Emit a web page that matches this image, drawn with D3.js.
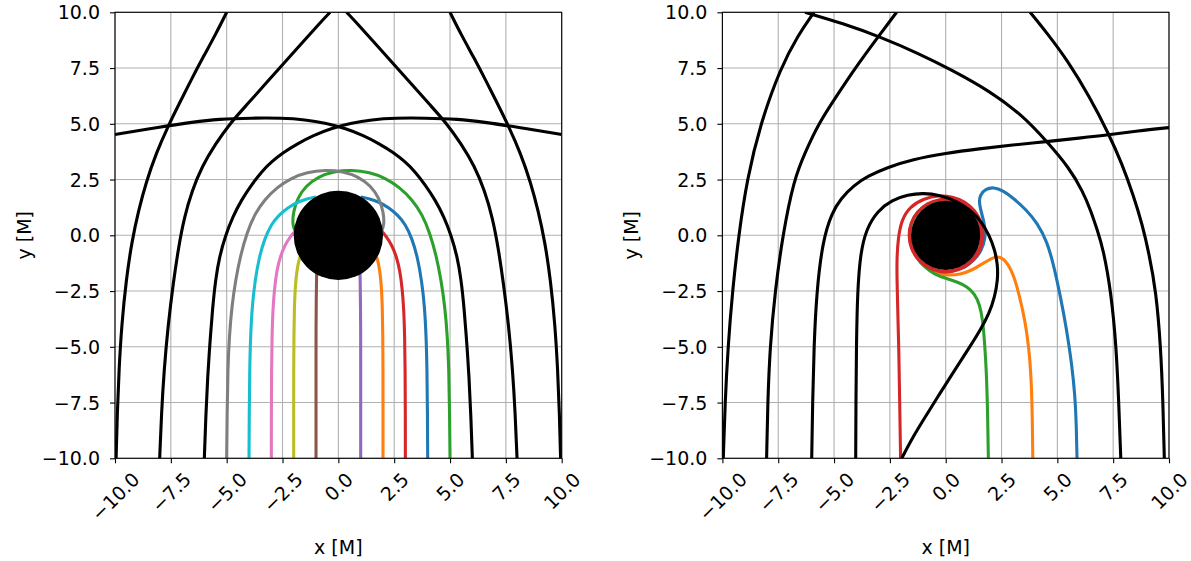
<!DOCTYPE html>
<html>
<head>
<meta charset="utf-8">
<script src="https://cdn.jsdelivr.net/npm/d3@7"></script>
<style>
  html, body { margin: 0; padding: 0; background: #ffffff; }
  svg { display: block; font-family: "DejaVu Sans", sans-serif; }
</style>
</head>
<body>
<svg id="chart" width="1191" height="561"></svg>
<script>
// Axis ticks shared by both panels (units of M)
const tickValues = [-10, -7.5, -5, -2.5, 0, 2.5, 5, 7.5, 10];
const xLabel = "x [M]";
const yLabel = "y [M]";

// Horizon radii drawn as black disks
const horizonLeft = 2.0;
const horizonRight = 1.55;

// ---- Left panel: non-rotating hole, rays launched upward from y = -10 ----
const sB1  = [[1,-10],[1,-8],[1,-6],[1,-4],[0.99,-3],[0.98,-2.2],[0.97,-1.6],[0.96,-1.3]];
const sB2  = [[2,-10],[2,-8],[2,-6],[1.99,-4.5],[1.97,-3.2],[1.93,-2.3],[1.86,-1.6],[1.76,-1.05],[1.6,-0.7]];
const sB3  = [[3,-10],[3,-8],[2.99,-6],[2.97,-4.5],[2.93,-3.3],[2.86,-2.4],[2.76,-1.6],[2.6,-0.95],[2.4,-0.45],[2.15,-0.05],[1.85,0.3]];
const sB4  = [[4,-10],[3.99,-8],[3.97,-6],[3.93,-4.5],[3.86,-3.2],[3.74,-2.1],[3.55,-1.0],[3.3,-0.15],[3.0,0.5],[2.65,0.92],[2.25,1.25],[1.8,1.5],[1.4,1.64],[1.0,1.72]];
const sB5  = [[5,-10],[4.98,-8],[4.95,-6],[4.88,-4.5],[4.77,-3.2],[4.6,-2.0],[4.38,-0.9],[4.1,0.1],[3.75,0.95],[3.3,1.6],[2.75,2.15],[2.1,2.57],[1.4,2.83],[0.6,2.93],[-0.2,2.87],[-0.9,2.63],[-1.45,2.22],[-1.82,1.68],[-2.02,1.05],[-2.06,0.45],[-1.9,0.1]];
const sBm1 = [[-1,-10],[-1,-8],[-1,-6],[-1,-4],[-0.99,-3],[-0.98,-2.2],[-0.97,-1.6],[-0.96,-1.3]];
const sBm2 = [[-2,-10],[-2,-8],[-2,-6],[-1.99,-4.5],[-1.97,-3.2],[-1.93,-2.3],[-1.86,-1.6],[-1.76,-1.05],[-1.6,-0.7]];
const sBm3 = [[-3,-10],[-3,-8],[-2.99,-6],[-2.97,-4.5],[-2.93,-3.3],[-2.86,-2.4],[-2.76,-1.6],[-2.6,-0.95],[-2.4,-0.45],[-2.15,-0.05],[-1.85,0.3]];
const sBm4 = [[-4,-10],[-3.99,-8],[-3.97,-6],[-3.93,-4.5],[-3.86,-3.2],[-3.74,-2.1],[-3.55,-1.0],[-3.3,-0.15],[-3.0,0.5],[-2.65,0.92],[-2.25,1.25],[-1.8,1.5],[-1.4,1.64],[-1.0,1.72]];
const sBm5 = [[-5,-10],[-4.98,-8],[-4.95,-6],[-4.88,-4.5],[-4.77,-3.2],[-4.6,-2.0],[-4.38,-0.9],[-4.1,0.1],[-3.75,0.95],[-3.3,1.6],[-2.75,2.15],[-2.1,2.57],[-1.4,2.83],[-0.6,2.93],[0.2,2.87],[0.9,2.63],[1.45,2.22],[1.82,1.68],[2.02,1.05],[2.06,0.45],[1.9,0.1]];
const sB6  = [[6,-10],[5.93,-8],[5.85,-6.3],[5.75,-4.82],[5.63,-3.25],[5.5,-2.0],[5.32,-0.94],[5.05,0],[4.73,0.83],[4.34,1.58],[3.9,2.25],[3.42,2.87],[2.98,3.31],[2.49,3.7],[1.83,4.11],[1.12,4.48],[0.33,4.79],[-0.53,5.02],[-1.49,5.19],[-2.56,5.26],[-3.82,5.26],[-5.39,5.21],[-6.5,5.08],[-8,4.85],[-10,4.52]];
const sBm6 = [[-6,-10],[-5.93,-8],[-5.85,-6.3],[-5.75,-4.82],[-5.63,-3.25],[-5.5,-2.0],[-5.32,-0.94],[-5.05,0],[-4.73,0.83],[-4.34,1.58],[-3.9,2.25],[-3.42,2.87],[-2.98,3.31],[-2.49,3.7],[-1.83,4.11],[-1.12,4.48],[-0.33,4.79],[0.53,5.02],[1.49,5.19],[2.56,5.26],[3.82,5.26],[5.39,5.21],[6.5,5.08],[8,4.85],[10,4.52]];
const sB8  = [[8,-10],[7.92,-8],[7.8,-6],[7.62,-4],[7.4,-2.2],[7.15,-0.5],[6.9,0.8],[6.55,2.0],[6.1,3.1],[5.5,4.1],[4.85,5.02],[4.1,5.85],[3.3,6.75],[2.45,7.7],[1.6,8.65],[0.8,9.55],[0.37,10]];
const sBm8 = [[-8,-10],[-7.92,-8],[-7.8,-6],[-7.62,-4],[-7.4,-2.2],[-7.15,-0.5],[-6.9,0.8],[-6.55,2.0],[-6.1,3.1],[-5.5,4.1],[-4.85,5.02],[-4.1,5.85],[-3.3,6.75],[-2.45,7.7],[-1.6,8.65],[-0.8,9.55],[-0.37,10]];
const sB10 = [[9.95,-10],[9.9,-8],[9.82,-6],[9.7,-4],[9.5,-2],[9.25,-0.3],[8.95,1.1],[8.6,2.4],[8.15,3.7],[7.62,4.9],[7.1,5.95],[6.6,6.95],[6.05,8.0],[5.5,9.0],[5.0,10]];
const sBm10 = [[-9.95,-10],[-9.9,-8],[-9.82,-6],[-9.7,-4],[-9.5,-2],[-9.25,-0.3],[-8.95,1.1],[-8.6,2.4],[-8.15,3.7],[-7.62,4.9],[-7.1,5.95],[-6.6,6.95],[-6.05,8.0],[-5.5,9.0],[-5.0,10]];

// ---- Right panel: spinning hole, same launch line ----
const kBm10 = [[-9.96,-10],[-9.88,-7.5],[-9.75,-5],[-9.55,-2.5],[-9.27,0],[-8.9,2.5],[-8.3,5],[-7.4,7.5],[-6.6,9.0],[-5.9,10]];
const kBm8  = [[-8.02,-10],[-7.97,-7.5],[-7.87,-5],[-7.64,-2.5],[-7.3,0],[-6.8,2.5],[-6.3,3.7],[-5.7,5],[-4.85,6.3],[-4.05,7.5],[-3.1,8.8],[-2.2,10]];
const kBm6  = [[-6,-10],[-5.96,-7.5],[-5.9,-5],[-5.78,-2.5],[-5.5,-0.2],[-5.1,1.0],[-4.7,1.65],[-4.1,2.25],[-3.5,2.65],[-2.6,3.05],[-1.5,3.4],[0,3.68],[1.5,3.88],[3,4.05],[4.5,4.2],[6,4.36],[7.28,4.5],[8.6,4.68],[10,4.83]];
const kBm4  = [[-4.03,-10],[-4.02,-7.5],[-4.0,-5],[-3.95,-2.5],[-3.82,-0.8],[-3.55,0.3],[-3.05,1.1],[-2.4,1.58],[-1.7,1.82],[-1.0,1.9],[-0.25,1.8],[0.45,1.55],[1.1,1.15],[1.6,0.62],[1.95,0.0],[2.2,-0.65],[2.33,-1.35],[2.33,-2.0],[2.2,-2.75],[1.95,-3.5],[1.55,-4.25],[1.05,-5.05],[0.4,-6.05],[-0.3,-7.15],[-1.0,-8.28],[-1.5,-9.1],[-1.97,-10]];
const kB8   = [[7.84,-10],[7.75,-7.5],[7.64,-5],[7.4,-2.5],[7.05,-0.6],[6.8,0.2],[6.5,1.1],[6.15,1.95],[5.55,3.0],[4.52,4.22],[3.42,5.4],[1.92,6.5],[0.3,7.4],[-1.2,8.15],[-2.94,8.9],[-4.6,9.5],[-6.3,10]];
const kB10  = [[9.79,-10],[9.73,-7.5],[9.63,-5],[9.42,-2.5],[9.1,-0.8],[8.8,0.5],[8.4,1.8],[7.9,3.2],[7.3,4.55],[6.45,6.2],[5.45,7.85],[4.55,9.05],[3.78,10]];
const kRed    = [[-2.02,-10],[-2.06,-7.5],[-2.1,-5],[-2.15,-3.3],[-2.18,-2],[-2.19,-1.1],[-2.13,-0.1],[-1.97,0.69],[-1.62,1.28],[-0.96,1.66],[-0.32,1.79],[0.31,1.74],[0.87,1.51],[1.32,1.11],[1.61,0.58],[1.7,0],[1.6,-0.58],[1.29,-1.09],[0.85,-1.46],[0.29,-1.65],[-0.29,-1.65],[-0.84,-1.45],[-1.28,-1.07],[-1.57,-0.57],[-1.67,0],[-1.57,0.57],[-1.27,1.07],[-0.83,1.44],[-0.29,1.63],[0.29,1.63],[0.83,1.43],[1.26,1.06],[1.55,0.56],[1.65,0],[1.55,-0.56],[1.26,-1.05],[0.82,-1.42],[0.28,-1.62],[-0.28,-1.62],[-0.82,-1.42],[-1.26,-1.05],[-1.54,-0.56],[-1.64,0]];
const kGreen  = [[1.91,-10],[1.88,-8],[1.82,-6],[1.74,-4.8],[1.66,-3.8],[1.52,-3.1],[1.3,-2.62],[0.95,-2.3],[0.55,-2.1],[0.0,-1.93],[-0.5,-1.75],[-0.95,-1.42],[-1.35,-0.98],[-1.58,-0.35],[-1.62,0.3],[-1.45,0.85],[-1.08,1.25],[-0.55,1.52],[0.05,1.6],[0.62,1.48],[1.1,1.12],[1.42,0.62],[1.55,0.1]];
const kOrange = [[3.9,-10],[3.88,-8],[3.82,-6.2],[3.72,-5],[3.55,-3.8],[3.3,-2.7],[3.05,-1.8],[2.75,-1.2],[2.43,-0.94],[2.13,-0.99],[1.7,-1.24],[1.22,-1.55],[0.65,-1.76],[0.05,-1.8],[-0.5,-1.68],[-1.0,-1.36],[-1.35,-0.9],[-1.55,-0.4]];
const kBlue   = [[5.88,-10],[5.85,-8.5],[5.79,-7.2],[5.65,-5.8],[5.42,-4.25],[5.15,-2.8],[4.85,-1.4],[4.55,-0.3],[4.1,0.55],[3.6,1.15],[3.05,1.65],[2.55,2.02],[2.15,2.16],[1.78,2.08],[1.52,1.8],[1.5,1.4],[1.62,0.95],[1.76,0.4],[1.78,-0.15],[1.6,-0.7],[1.25,-1.15],[0.8,-1.45]];

const C = {
  blue: "#1f77b4", orange: "#ff7f0e", green: "#2ca02c", red: "#d62728", purple: "#9467bd",
  brown: "#8c564b", pink: "#e377c2", gray: "#7f7f7f", olive: "#bcbd22", cyan: "#17becf", black: "#000000"
};

const leftSeries = [
  { pts: sB10, color: C.black }, { pts: sBm10, color: C.black },
  { pts: sB8, color: C.black }, { pts: sBm8, color: C.black },
  { pts: sB6, color: C.black }, { pts: sBm6, color: C.black },
  { pts: sB4, color: C.blue }, { pts: sB2, color: C.orange }, { pts: sB5, color: C.green },
  { pts: sB3, color: C.red }, { pts: sB1, color: C.purple }, { pts: sBm1, color: C.brown },
  { pts: sBm3, color: C.pink }, { pts: sBm5, color: C.gray }, { pts: sBm2, color: C.olive },
  { pts: sBm4, color: C.cyan }
];
const rightSeries = [
  { pts: kBm10, color: C.black }, { pts: kBm8, color: C.black }, { pts: kBm6, color: C.black },
  { pts: kB8, color: C.black }, { pts: kB10, color: C.black },
  { pts: kBlue, color: C.blue }, { pts: kOrange, color: C.orange }, { pts: kGreen, color: C.green },
  { pts: kRed, color: C.red }, { pts: kBm4, color: C.black }
];

const FS = 19;
const svg = d3.select("#chart");

function drawPanel(id, box, series, horizon) {
  const x = d3.scaleLinear().domain([-10, 10]).range([box.x0, box.x1]);
  const y = d3.scaleLinear().domain([-10, 10]).range([box.y1, box.y0]);
  const g = svg.append("g");

  g.append("clipPath").attr("id", "clip-" + id).append("rect")
    .attr("x", box.x0).attr("y", box.y0).attr("width", box.x1 - box.x0).attr("height", box.y1 - box.y0);

  // grid
  const grid = g.append("g").attr("stroke", "#b0b0b0").attr("stroke-width", 1.1);
  grid.selectAll("line.v").data(tickValues).join("line").attr("class", "v")
    .attr("x1", d => x(d)).attr("x2", d => x(d)).attr("y1", box.y0).attr("y2", box.y1);
  grid.selectAll("line.h").data(tickValues).join("line").attr("class", "h")
    .attr("y1", d => y(d)).attr("y2", d => y(d)).attr("x1", box.x0).attr("x2", box.x1);

  // ray paths and horizon
  const plot = g.append("g").attr("clip-path", `url(#clip-${id})`);
  const line = d3.line().x(d => x(d[0])).y(d => y(d[1])).curve(d3.curveBasis);
  plot.selectAll("path.ray").data(series).join("path").attr("class", "ray")
    .attr("d", d => line(d.pts)).attr("fill", "none").attr("stroke", d => d.color)
    .attr("stroke-width", 3.1).attr("stroke-linejoin", "round").attr("stroke-linecap", "butt");
  plot.append("circle").attr("cx", x(0)).attr("cy", y(0)).attr("r", x(horizon) - x(0)).attr("fill", "#000");

  // frame
  g.append("rect").attr("x", box.x0).attr("y", box.y0).attr("width", box.x1 - box.x0).attr("height", box.y1 - box.y0)
    .attr("fill", "none").attr("stroke", "#000").attr("stroke-width", 1.1);

  const fmt = d3.format(".1f");
  const gx = g.append("g").attr("transform", `translate(0,${box.y1})`)
    .call(d3.axisBottom(x).tickValues(tickValues).tickFormat(fmt).tickSize(5).tickPadding(5));
  const gy = g.append("g").attr("transform", `translate(${box.x0},0)`)
    .call(d3.axisLeft(y).tickValues(tickValues).tickFormat(fmt).tickSize(5).tickPadding(10));
  [gx, gy].forEach(a => {
    a.select(".domain").remove();
    a.selectAll(".tick line").attr("stroke", "#000").attr("stroke-width", 1.1);
    a.selectAll(".tick text").attr("fill", "#000").style("font-size", FS + "px")
      .style("font-family", "'DejaVu Sans', sans-serif");
  });
  gy.selectAll(".tick text").attr("dy", "0.35em");
  gx.selectAll(".tick text").each(function () {
    const t = d3.select(this);
    t.attr("y", 0).attr("dy", "0.35em").attr("text-anchor", "middle");
    const w = this.getComputedTextLength();
    const s = (w + FS * 1.164) * Math.SQRT1_2;
    t.attr("transform", `translate(0,${10 + s / 2}) rotate(-45)`);
  });

  g.append("text").attr("x", (box.x0 + box.x1) / 2).attr("y", 554).attr("text-anchor", "middle")
    .style("font-size", FS + "px").text(xLabel);
  g.append("text").attr("transform", `translate(${box.x0 - 84},${(box.y0 + box.y1) / 2}) rotate(-90)`)
    .attr("text-anchor", "middle").style("font-size", FS + "px").text(yLabel);
}

drawPanel("L", { x0: 115, x1: 561.7, y0: 12.3, y1: 458.3 }, leftSeries, horizonLeft);
drawPanel("R", { x0: 722.4, x1: 1169, y0: 12.3, y1: 458.3 }, rightSeries, horizonRight);
</script>
</body>
</html>
